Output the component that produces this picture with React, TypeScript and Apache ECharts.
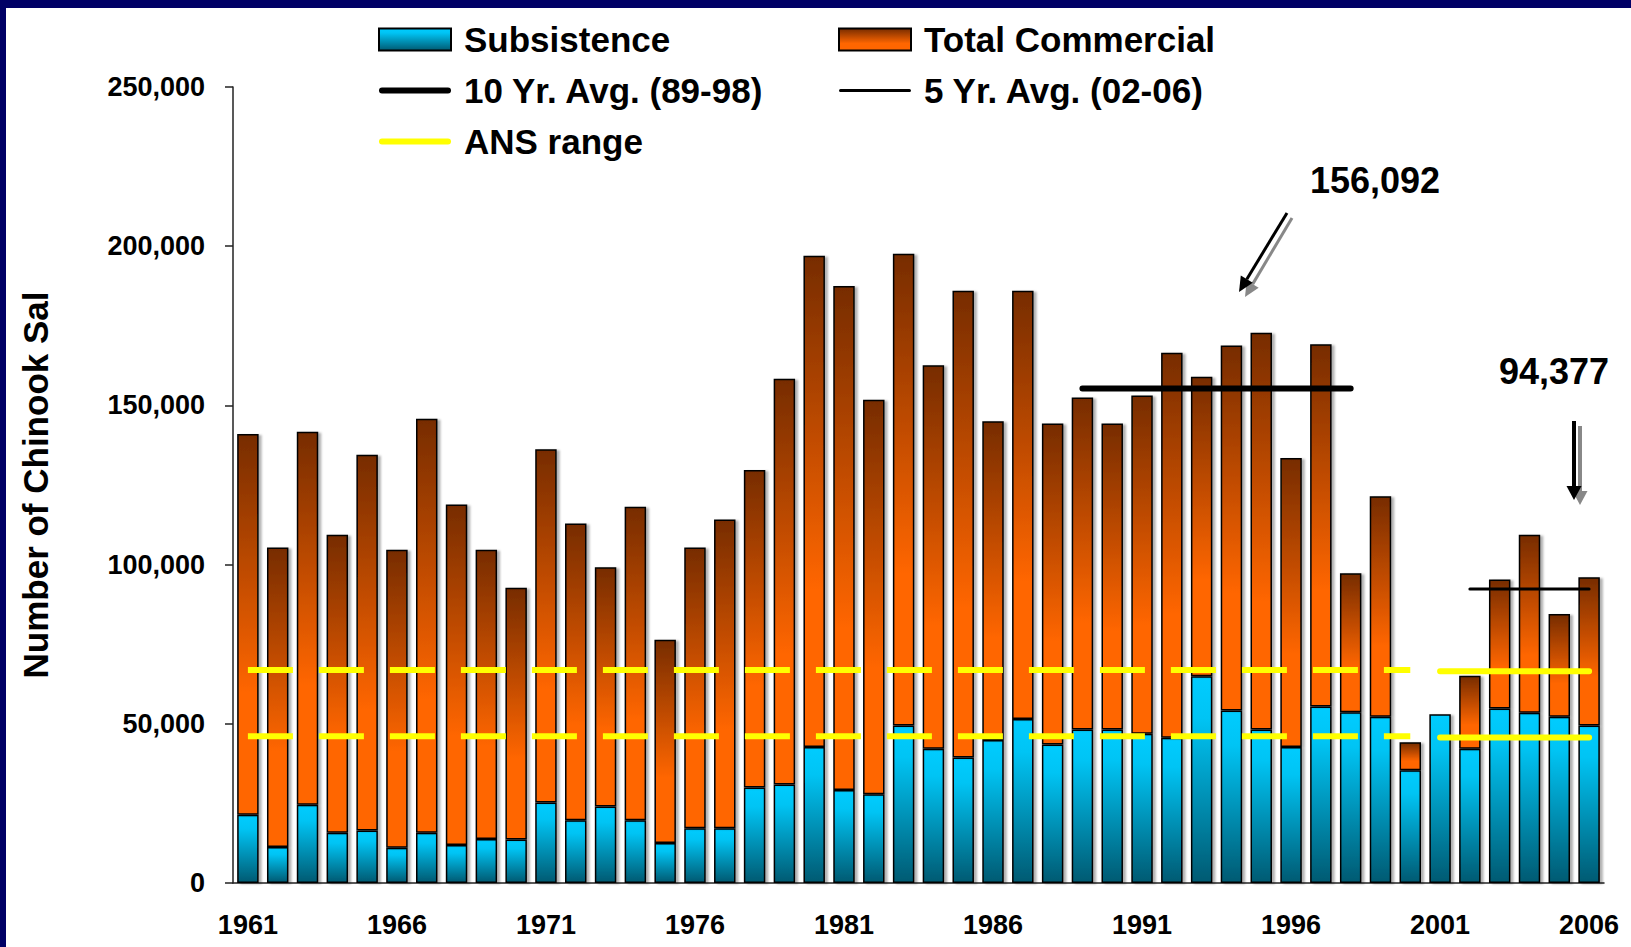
import React, { useEffect, useRef } from "react";
import * as echarts from "echarts";

const years = [
  "1961", "1962", "1963", "1964", "1965", "1966", "1967", "1968", "1969", "1970",
  "1971", "1972", "1973", "1974", "1975", "1976", "1977", "1978", "1979", "1980",
  "1981", "1982", "1983", "1984", "1985", "1986", "1987", "1988", "1989", "1990",
  "1991", "1992", "1993", "1994", "1995", "1996", "1997", "1998", "1999", "2000",
  "2001", "2002", "2003", "2004", "2005", "2006",
];

const subsistence = [
  21400, 11300, 24600, 15800, 16500, 11100, 15800, 11900, 13800, 13700,
  25300, 19700, 24000, 19700, 12600, 17200, 17200, 30000, 30900, 42700,
  29200, 27900, 49500, 42200, 39400, 44900, 51500, 43500, 48200, 48200,
  46900, 45600, 64900, 54200, 48200, 42700, 55400, 53600, 52200, 35400,
  53000, 42200, 54800, 53500, 52200, 49500,
];

const commercial = [
  119600, 94100, 117100, 93600, 118000, 93600, 130000, 107000, 90900, 79000,
  110900, 93200, 75200, 98500, 63800, 88200, 97000, 99700, 127500, 154300,
  158300, 123900, 148100, 120400, 146600, 100100, 134500, 100800, 104300, 96100,
  106200, 120900, 94100, 114600, 124600, 90800, 113800, 43700, 69300, 8800,
  0, 22900, 40500, 55900, 32300, 46500,
];

// averages as drawn (value, first year, last year)
const avg10 = { value: 155300, from: 1989, to: 1998, label: "156,092" };
const avg5 = { value: 92300, from: 2002, to: 2006, label: "94,377" };

// ANS range bounds: dashed through 2000, solid 2001-2006
const ansDashed = { low: 46100, high: 66900, from: 1961, to: 2000 };
const ansSolid = { low: 45700, high: 66500, from: 2001, to: 2006 };

const FONT = "'Liberation Sans', Arial, Helvetica, sans-serif";

function spanData(value: number, from: number, to: number) {
  return years.map((y) => {
    const n = Number(y);
    return n >= from && n <= to ? value : null;
  });
}

function arrow(
  x1: number, y1: number, x2: number, y2: number,
  color: string, w: number, headLen: number, headHalf: number
) {
  const dx = x2 - x1;
  const dy = y2 - y1;
  const len = Math.sqrt(dx * dx + dy * dy);
  const ux = dx / len;
  const uy = dy / len;
  const bx = x2 - ux * headLen;
  const by = y2 - uy * headLen;
  const px = -uy;
  const py = ux;
  return [
    {
      type: "line",
      shape: { x1, y1, x2: bx, y2: by },
      style: { stroke: color, lineWidth: w },
      z: 100,
    },
    {
      type: "polygon",
      shape: {
        points: [
          [x2, y2],
          [bx + px * headHalf, by + py * headHalf],
          [bx - px * headHalf, by - py * headHalf],
        ],
      },
      style: { fill: color },
      z: 100,
    },
  ];
}

export default function App() {
  const ref = useRef<HTMLDivElement>(null);

  useEffect(() => {
    if (!ref.current) return;
    const chart = echarts.init(ref.current, undefined, { renderer: "svg" });

    const axisColor = "#222";
    const subsGrad = new echarts.graphic.LinearGradient(0, 0, 0, 1, [
      { offset: 0, color: "#00CCFF" },
      { offset: 0.2, color: "#00C4F4" },
      { offset: 1, color: "#005A72" },
    ]);
    const commGrad = new echarts.graphic.LinearGradient(0, 0, 0, 1, [
      { offset: 0, color: "#772C00" },
      { offset: 0.68, color: "#FF6600" },
      { offset: 1, color: "#FF6600" },
    ]);

    const barShadow = {
      shadowColor: "rgba(0,0,0,0.3)",
      shadowOffsetX: 3,
      shadowOffsetY: 1,
      shadowBlur: 2,
    };

    const ansStyle = (dashed: boolean) => ({
      color: "#FFFF00",
      width: 6,
      type: dashed ? [45, 26] : "solid",
      cap: dashed ? "butt" : "round",
    });

    const lineCommon = {
      type: "line",
      symbol: "none",
      connectNulls: false,
      silent: true,
      z: 5,
    };

    const legendText = {
      fontSize: 35,
      fontWeight: "bold",
      color: "#000",
      fontFamily: FONT,
      padding: [0, 0, 0, 8],
    };

    const thickLine = "path://M3,0H69A3,3,0,0,1,69,6H3A3,3,0,0,1,3,0Z";
    const thinLine = "path://M1.5,0H70.5A1.5,1.5,0,0,1,70.5,3H1.5A1.5,1.5,0,0,1,1.5,0Z";

    const option = {
      animation: false,
      backgroundColor: "#ffffff",
      textStyle: { fontFamily: FONT, fontWeight: "bold" },
      grid: { left: 233, right: 27, top: 87, bottom: 64 },
      legend: [
        {
          left: 373,
          top: 17,
          orient: "vertical",
          itemWidth: 72,
          itemHeight: 22,
          itemGap: 16,
          selectedMode: false,
          data: [
            { name: "Subsistence", icon: "rect" },
            { name: "10 Yr. Avg. (89-98)", icon: thickLine },
            { name: "ANS range", icon: thickLine },
          ],
          textStyle: legendText,
        },
        {
          left: 833,
          top: 17,
          orient: "vertical",
          itemWidth: 72,
          itemHeight: 22,
          itemGap: 16,
          selectedMode: false,
          data: [
            { name: "Total Commercial", icon: "rect" },
            { name: "5 Yr. Avg. (02-06)", icon: thinLine },
          ],
          textStyle: legendText,
        },
      ],
      xAxis: {
        type: "category",
        data: years,
        axisLine: { lineStyle: { color: axisColor, width: 1.5 } },
        axisTick: { interval: 0, length: 8, lineStyle: { color: axisColor, width: 1.5 } },
        axisLabel: {
          interval: 4,
          margin: 28,
          fontSize: 27,
          fontWeight: "bold",
          color: "#000",
          fontFamily: FONT,
        },
      },
      yAxis: {
        type: "value",
        min: 0,
        max: 250000,
        interval: 50000,
        name: "Number of Chinook Sal",
        nameLocation: "middle",
        nameGap: 180,
        nameTextStyle: { fontSize: 35, fontWeight: "bold", color: "#000", fontFamily: FONT },
        axisLine: { show: true, lineStyle: { color: axisColor, width: 1.5 } },
        axisTick: { show: true, length: 8, lineStyle: { color: axisColor, width: 1.5 } },
        splitLine: { show: false },
        axisLabel: {
          margin: 28,
          fontSize: 27,
          fontWeight: "bold",
          color: "#000",
          fontFamily: FONT,
          formatter: (v: number) => String(v).replace(/\B(?=(\d{3})+(?!\d))/g, ","),
        },
      },
      series: [
        {
          name: "Subsistence",
          type: "bar",
          stack: "harvest",
          barWidth: "72%",
          data: subsistence,
          itemStyle: { color: subsGrad, borderColor: "#000", borderWidth: 1.5, ...barShadow },
        },
        {
          name: "Total Commercial",
          type: "bar",
          stack: "harvest",
          barWidth: "72%",
          data: commercial,
          itemStyle: { color: commGrad, borderColor: "#000", borderWidth: 1.5, ...barShadow },
        },
        {
          ...lineCommon,
          name: "ANS range",
          data: spanData(ansSolid.high, ansSolid.from, ansSolid.to),
          lineStyle: ansStyle(false),
          itemStyle: { color: "#FFFF00" },
        },
        {
          ...lineCommon,
          name: "ANS range",
          data: spanData(ansSolid.low, ansSolid.from, ansSolid.to),
          lineStyle: ansStyle(false),
          itemStyle: { color: "#FFFF00" },
        },
        {
          ...lineCommon,
          name: "ANS range",
          data: spanData(ansDashed.high, ansDashed.from, ansDashed.to),
          lineStyle: ansStyle(true),
          itemStyle: { color: "#FFFF00" },
        },
        {
          ...lineCommon,
          name: "ANS range",
          data: spanData(ansDashed.low, ansDashed.from, ansDashed.to),
          lineStyle: ansStyle(true),
          itemStyle: { color: "#FFFF00" },
        },
        {
          ...lineCommon,
          name: "10 Yr. Avg. (89-98)",
          data: spanData(avg10.value, avg10.from, avg10.to),
          lineStyle: { color: "#000", width: 6, cap: "round" },
          itemStyle: { color: "#000" },
          z: 6,
        },
        {
          ...lineCommon,
          name: "5 Yr. Avg. (02-06)",
          data: spanData(avg5.value, avg5.from, avg5.to),
          lineStyle: { color: "#000", width: 3, cap: "round" },
          itemStyle: { color: "#000" },
          z: 6,
        },
      ],
      graphic: [
        { type: "rect", shape: { x: 0, y: 0, width: 1631, height: 8 }, style: { fill: "#000066" }, z: 200 },
        { type: "rect", shape: { x: 0, y: 0, width: 6, height: 947 }, style: { fill: "#000066" }, z: 200 },
        {
          type: "text",
          x: 1375,
          y: 180,
          z: 100,
          style: {
            text: avg10.label,
            fill: "#000",
            font: `bold 36px ${FONT}`,
            textAlign: "center",
            textVerticalAlign: "middle",
          },
        },
        {
          type: "text",
          x: 1554,
          y: 371,
          z: 100,
          style: {
            text: avg5.label,
            fill: "#000",
            font: `bold 36px ${FONT}`,
            textAlign: "center",
            textVerticalAlign: "middle",
          },
        },
        ...arrow(1292, 218, 1245, 297, "#888888", 3, 15, 7),
        ...arrow(1287, 213, 1239, 292, "#000000", 3, 15, 7),
        ...arrow(1580, 426, 1580, 505, "#888888", 4, 14, 7.5),
        ...arrow(1574, 421, 1574, 500, "#000000", 4, 14, 7.5),
      ],
    };

    chart.setOption(option as any);
    return () => {
      chart.dispose();
    };
  }, []);

  return (
    <div
      ref={ref}
      style={{ position: "fixed", left: 0, top: 0, width: 1631, height: 947, background: "#fff" }}
    />
  );
}
